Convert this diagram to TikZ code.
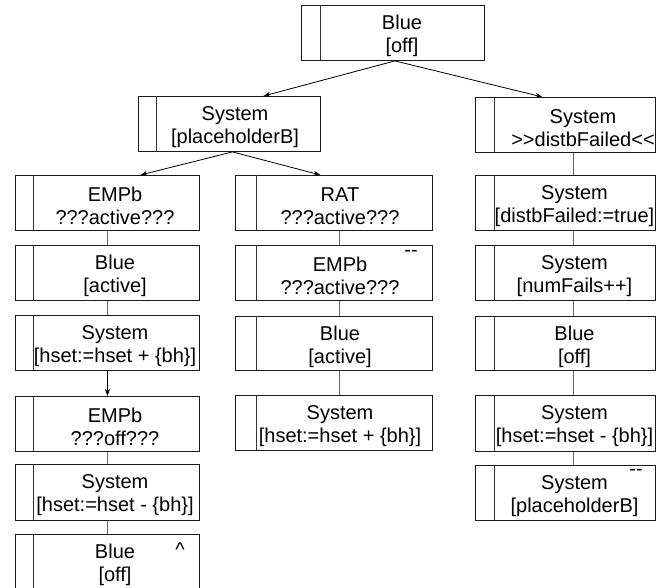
\documentclass[tikz,border=0pt]{standalone}
\usepackage{fontspec}
\setmainfont{Liberation Sans}
\usetikzlibrary{arrows.meta}
\tikzset{
  bx/.style={draw=black!90, line width=0.9pt, inner sep=0pt, anchor=north west},
  stripline/.style={draw=black!80, line width=0.9pt},
  lbl/.style={font=\fontsize{20}{23.5}\selectfont, align=center, inner sep=0pt, text=black},
  mk/.style={font=\fontsize{20}{23.5}\selectfont, inner sep=0pt, text=black},
  conn/.style={draw=black!60, line width=0.9pt},
  arr/.style={draw=black, line width=0.8pt, -{Stealth[length=7pt,width=5pt]}}
}
% [#1 text x shift] #2 name, #3 left, #4 right, #5 top, #6 strip x, #7 height, #8 text
\newcommand\blk[8][0]{%
  \node[bx, minimum width={(#4-#3)*1pt}, minimum height={#7*1pt}] (#2) at (#3,#5) {};
  \draw[stripline] (#6,#5) -- (#6,{#5+#7});
  \node[lbl] (#2t) at ({(#6+#4)/2+#1},{#5+27.5+3.5}) {#8};
}
\begin{document}
\begin{tikzpicture}[x=1pt,y=-1pt]
\useasboundingbox (0,0) rectangle (661,588);
% top
\blk{top}{301}{484}{5}{320}{55}{Blue\\{[off]}}
\blk[-3]{sysB}{138}{320}{96}{156}{55}{System\\{[placeholderB]}}
\blk[8.5]{R1}{475}{655}{97}{494}{55}{System\\>\kern0pt>distbFailed<\kern0pt<}
% left column
\blk[-1]{L1}{15}{199}{175}{33}{55}{EMPb\\???active???}
\blk[-1]{L2}{15}{199}{245}{33}{55}{Blue\\{[active]}}
\blk[-1]{L3}{15}{199}{315}{33}{55}{System\\{[hset:=hset + \{bh\}]}}
\blk[-1]{L4}{15}{199}{396}{33}{55}{EMPb\\???off???}
\blk[-1]{L5}{15}{199}{464}{33}{56}{System\\{[hset:=hset - \{bh\}]}}
\blk[-1]{L6}{15}{199}{534}{33}{60}{Blue\\{[off]}}
\node[mk] (L6m) at (180,550) {\textasciicircum};
% middle column
\blk[-4]{M1}{235}{432}{175}{256}{55}{RAT\\???active???}
\blk[-4]{M2}{235}{432}{245}{256}{55}{EMPb\\???active???}
\node[mk] (M2m) at (411,253) {-\kern0pt-};
\blk[-4]{M3}{235}{432}{316}{256}{54}{Blue\\{[active]}}
\blk[-4]{M4}{235}{432}{395}{256}{55}{System\\{[hset:=hset + \{bh\}]}}
% right column
\blk{R2}{475}{655}{175}{494}{55}{System\\{[distbFailed:=true]}}
\blk{R3}{475}{655}{245}{494}{55}{System\\{[numFails++]}}
\blk{R4}{475}{655}{316}{494}{54}{Blue\\{[off]}}
\blk{R5}{475}{655}{395}{494}{56}{System\\{[hset:=hset - \{bh\}]}}
\blk{R6}{475}{655}{465}{494}{55}{System\\{[placeholderB]}}
\node[mk] (R6m) at (636,472) {-\kern0pt-};
% arrows
\draw[arr] ([xshift=2pt]top.south) -- ([xshift=34pt]sysB.north);
\draw[arr] ([xshift=2pt]top.south) -- ([xshift=-23pt]R1.north);
\draw[arr] ([xshift=3pt]sysB.south) -- ([xshift=33pt]L1.north);
\draw[arr] ([xshift=3pt]sysB.south) -- ([xshift=-13.5pt]M1.north);
\draw[arr] (L3.south) -- (L4.north);
% plain connectors
\draw[conn] (L1.south) -- (L2.north);
\draw[conn] (L2.south) -- (L3.north);
\draw[conn] (L4.south) -- (L5.north);
\draw[conn] (L5.south) -- (L6.north);
\draw[conn] ([xshift=5.5pt]M1.south) -- ([xshift=5.5pt]M2.north);
\draw[conn] ([xshift=5.5pt]M2.south) -- ([xshift=5.5pt]M3.north);
\draw[conn] ([xshift=5.5pt]M3.south) -- ([xshift=5.5pt]M4.north);
\draw[conn] ([xshift=8pt]R1.south) -- ([xshift=8pt]R2.north);
\draw[conn] ([xshift=8pt]R2.south) -- ([xshift=8pt]R3.north);
\draw[conn] ([xshift=8pt]R3.south) -- ([xshift=8pt]R4.north);
\draw[conn] ([xshift=8pt]R4.south) -- ([xshift=8pt]R5.north);
\draw[conn] ([xshift=8pt]R5.south) -- ([xshift=8pt]R6.north);
\end{tikzpicture}
\end{document}
